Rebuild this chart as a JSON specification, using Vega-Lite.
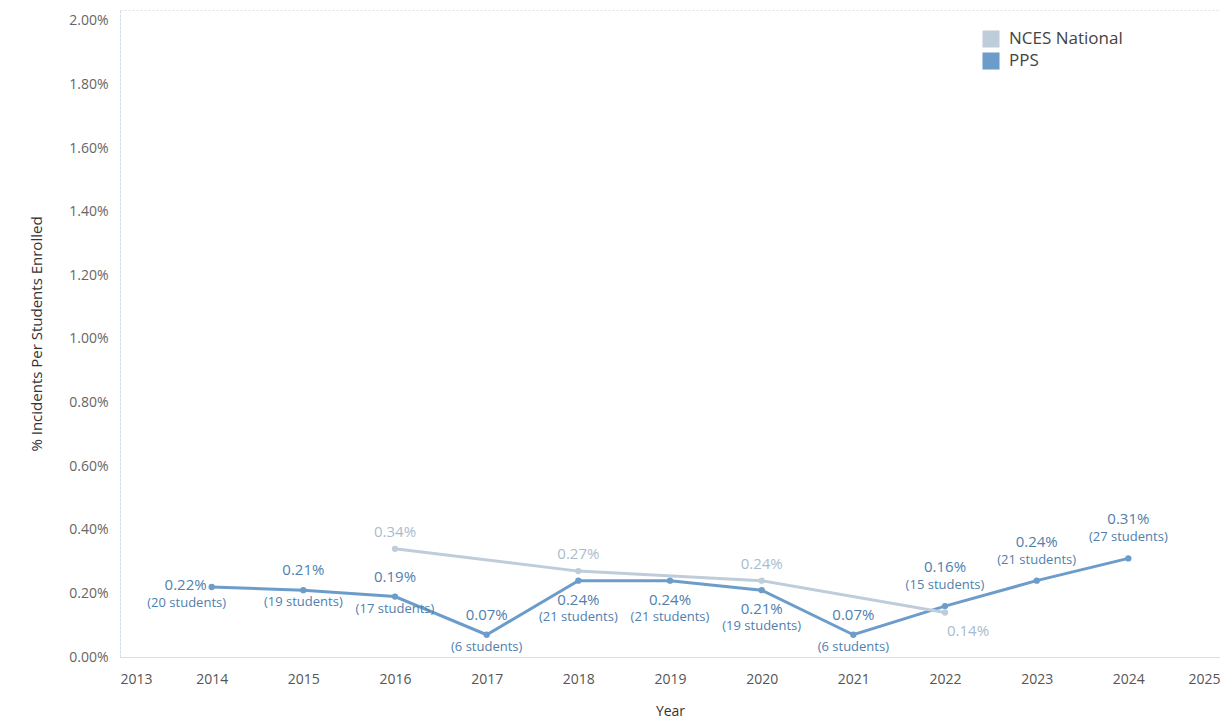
{
  "$schema": "https://vega.github.io/schema/vega-lite/v6.json",
  "autosize": {"type": "none"},
  "padding": {"left": 120, "top": 10, "right": 0, "bottom": 68},
  "width": 1100,
  "height": 647,
  "background": "white",
  "config": {
    "font": "Open Sans",
    "view": {"stroke": "#dbe5ee", "strokeDash": [2, 2]}
  },
  "data": {
    "values": [
      {"year": 2014, "series": "PPS", "rate": 0.0022, "note": "(20 students)"},
      {"year": 2015, "series": "PPS", "rate": 0.0021, "note": "(19 students)"},
      {"year": 2016, "series": "PPS", "rate": 0.0019, "note": "(17 students)"},
      {"year": 2017, "series": "PPS", "rate": 0.0007, "note": "(6 students)"},
      {"year": 2018, "series": "PPS", "rate": 0.0024, "note": "(21 students)"},
      {"year": 2019, "series": "PPS", "rate": 0.0024, "note": "(21 students)"},
      {"year": 2020, "series": "PPS", "rate": 0.0021, "note": "(19 students)"},
      {"year": 2021, "series": "PPS", "rate": 0.0007, "note": "(6 students)"},
      {"year": 2022, "series": "PPS", "rate": 0.0016, "note": "(15 students)"},
      {"year": 2023, "series": "PPS", "rate": 0.0024, "note": "(21 students)"},
      {"year": 2024, "series": "PPS", "rate": 0.0031, "note": "(27 students)"},
      {"year": 2016, "series": "NCES National", "rate": 0.0034, "note": ""},
      {"year": 2018, "series": "NCES National", "rate": 0.0027, "note": ""},
      {"year": 2020, "series": "NCES National", "rate": 0.0024, "note": ""},
      {"year": 2022, "series": "NCES National", "rate": 0.0014, "note": ""}
    ]
  },
  "encoding": {
    "x": {
      "field": "year", "type": "quantitative",
      "scale": {"domain": [2013, 2025], "nice": false, "zero": false},
      "axis": {
        "title": "Year", "values": [2013,2014,2015,2016,2017,2018,2019,2020,2021,2022,2023,2024,2025],
        "format": "d", "labelFlush": true, "ticks": false, "grid": false,
        "labelPadding": 15, "labelFontSize": 14, "labelColor": "#555",
        "titleFontSize": 14, "titleFontWeight": "normal", "titleColor": "#333", "titlePadding": 18,
        "domainColor": "#d4dfe8"
      }
    },
    "y": {
      "field": "rate", "type": "quantitative",
      "scale": {"domain": [0, 0.02034], "nice": false},
      "axis": {
        "title": "% Incidents Per Students Enrolled",
        "values": [0,0.002,0.004,0.006,0.008,0.01,0.012,0.014,0.016,0.018,0.02],
        "format": ".2%", "ticks": false, "grid": false,
        "labelPadding": 12, "labelFontSize": 14, "labelColor": "#666",
        "titleFontSize": 15, "titleFontWeight": "normal", "titleColor": "#333", "titlePadding": 24,
        "domainColor": "#c9d9e8", "domainDash": [2, 2]
      }
    }
  },
  "layer": [
    {
      "mark": {"type": "line", "strokeWidth": 3},
      "encoding": {
        "color": {
          "field": "series", "type": "nominal",
          "scale": {"domain": ["NCES National", "PPS"], "range": ["#bfcdda", "#6c9dca"]},
          "legend": {
            "title": null, "orient": "none", "legendX": 862, "legendY": 20,
            "symbolType": "square", "symbolSize": 290, "symbolStrokeWidth": 0,
            "labelFontSize": 17, "labelColor": "#444", "rowPadding": 4, "labelOffset": 9
          }
        }
      }
    },
    {
      "mark": {"type": "point", "filled": true, "size": 40, "opacity": 1},
      "encoding": {
        "color": {"field": "series", "type": "nominal", "legend": null}
      }
    },
    {
      "transform": [{"filter": "datum.series == 'PPS' && indexof([2015,2016,2017,2021], datum.year) >= 0"}],
      "mark": {"type": "text", "dy": -20, "fontSize": 15, "color": "#4f80ae"},
      "encoding": {"text": {"field": "rate", "format": ".2%"}}
    },
    {
      "transform": [{"filter": "datum.series == 'PPS' && indexof([2022,2023,2024], datum.year) >= 0"}],
      "mark": {"type": "text", "dy": -39, "fontSize": 15, "color": "#4f80ae"},
      "encoding": {"text": {"field": "rate", "format": ".2%"}}
    },
    {
      "transform": [{"filter": "datum.series == 'PPS' && indexof([2018,2019,2020], datum.year) >= 0"}],
      "mark": {"type": "text", "dy": 19, "fontSize": 15, "color": "#4f80ae"},
      "encoding": {"text": {"field": "rate", "format": ".2%"}}
    },
    {
      "transform": [{"filter": "datum.series == 'PPS' && datum.year == 2014"}],
      "mark": {"type": "text", "dx": -5, "dy": -2, "align": "right", "fontSize": 15, "color": "#4f80ae"},
      "encoding": {"text": {"field": "rate", "format": ".2%"}}
    },
    {
      "transform": [{"filter": "datum.series == 'PPS' && indexof([2015,2016,2017,2021], datum.year) >= 0"}],
      "mark": {"type": "text", "dy": 12, "fontSize": 13, "color": "#4f80ae"},
      "encoding": {"text": {"field": "note"}}
    },
    {
      "transform": [{"filter": "datum.series == 'PPS' && datum.year == 2014"}],
      "mark": {"type": "text", "dx": -25, "dy": 16, "fontSize": 13, "color": "#4f80ae"},
      "encoding": {"text": {"field": "note"}}
    },
    {
      "transform": [{"filter": "datum.series == 'PPS' && indexof([2018,2019,2020], datum.year) >= 0"}],
      "mark": {"type": "text", "dy": 36, "fontSize": 13, "color": "#4f80ae"},
      "encoding": {"text": {"field": "note"}}
    },
    {
      "transform": [{"filter": "datum.series == 'PPS' && indexof([2022,2023,2024], datum.year) >= 0"}],
      "mark": {"type": "text", "dy": -21, "fontSize": 13, "color": "#4f80ae"},
      "encoding": {"text": {"field": "note"}}
    },
    {
      "transform": [{"filter": "datum.series == 'NCES National' && datum.year != 2022"}],
      "mark": {"type": "text", "dy": -17, "fontSize": 15, "color": "#a9bccd"},
      "encoding": {"text": {"field": "rate", "format": ".2%"}}
    },
    {
      "transform": [{"filter": "datum.series == 'NCES National' && datum.year == 2022"}],
      "mark": {"type": "text", "dx": 2, "dy": 19, "align": "left", "fontSize": 15, "color": "#a9bccd"},
      "encoding": {"text": {"field": "rate", "format": ".2%"}}
    }
  ]
}
